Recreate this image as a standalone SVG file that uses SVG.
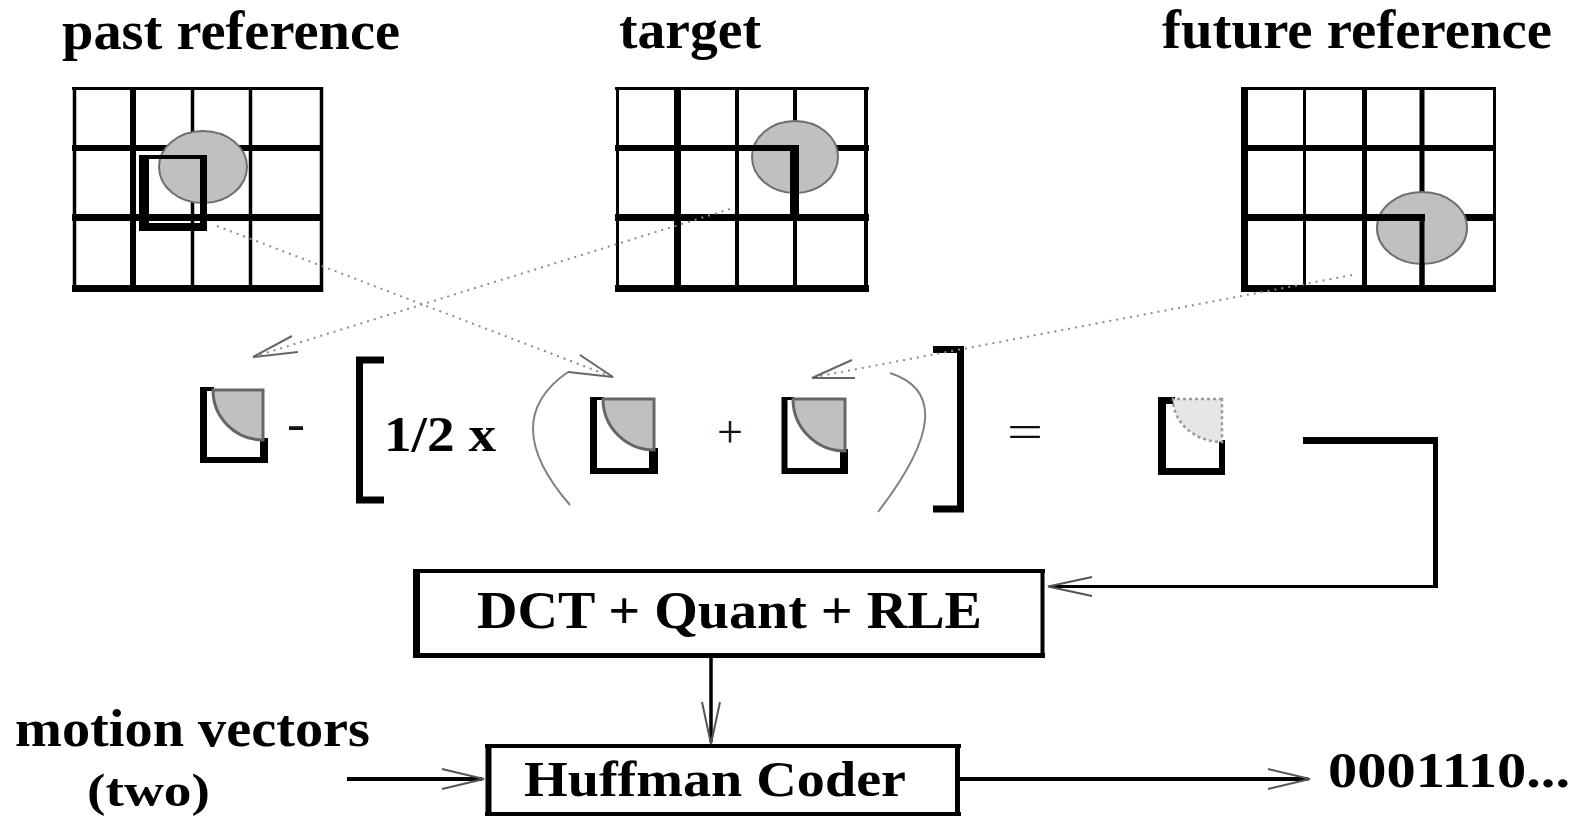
<svg xmlns="http://www.w3.org/2000/svg" width="1574" height="819" viewBox="0 0 1574 819">
<style>
.t{font-family:"Liberation Serif","Times New Roman",serif;font-weight:bold;fill:#000}
.op{font-family:"Liberation Serif","Times New Roman",serif;font-weight:normal;fill:#111}
.k{fill:none;stroke:#000}
.circ{fill:#c0c0c0;stroke:#6e6e6e;stroke-width:2}
.q{fill:#c0c0c0;stroke:#666;stroke-width:3}
.ql{fill:#e6e6e6;stroke:#999;stroke-width:2.5;stroke-dasharray:3 3}
.paren{fill:none;stroke:#808080;stroke-width:2}
.dot{fill:none;stroke:#8c8c8c;stroke-width:2;stroke-dasharray:2 5}
.ah{fill:none;stroke:#555;stroke-width:2}
.ahd{fill:none;stroke:#666;stroke-width:2}
</style>
<rect width="1574" height="819" fill="#fff"/>

<g id="past-reference">
<text class="t" x="62" y="49" font-size="54" textLength="338" lengthAdjust="spacingAndGlyphs">past reference</text>
<path class="k" d="M74.5,87V292M192.5,87V292M250.5,87V292M321.5,87V292" stroke-width="3.5"/>
<path class="k" d="M133,87V292" stroke-width="6"/>
<path class="k" d="M72,88.5H323" stroke-width="3"/>
<path class="k" d="M72,148H323" stroke-width="6"/>
<path class="k" d="M72,217.5H323M72,288.5H323" stroke-width="7"/>
<ellipse class="circ" cx="203" cy="167" rx="44" ry="36"/>
<path class="k" d="M144,155V231" stroke-width="10"/>
<path class="k" d="M139,157H207" stroke-width="4"/>
<path class="k" d="M203.5,155V231" stroke-width="7"/>
<path class="k" d="M139,227H207" stroke-width="8"/>
</g>

<g id="target">
<text class="t" x="619" y="48" font-size="54" textLength="142" lengthAdjust="spacingAndGlyphs">target</text>
<path class="k" d="M617.5,87V292" stroke-width="3"/>
<path class="k" d="M677.5,87V292" stroke-width="7"/>
<path class="k" d="M737,87V292M795,87V292M866,87V292" stroke-width="4"/>
<path class="k" d="M615,88.5H869" stroke-width="3"/>
<path class="k" d="M615,148H869" stroke-width="6"/>
<path class="k" d="M615,217.5H869M615,288.5H869" stroke-width="7"/>
<ellipse class="circ" cx="795" cy="157" rx="43" ry="36"/>
<path class="k" d="M737,148H799" stroke-width="6"/>
<path class="k" d="M794.5,145V221" stroke-width="9"/>
</g>

<g id="future-reference">
<text class="t" x="1162" y="48" font-size="54" textLength="390" lengthAdjust="spacingAndGlyphs">future reference</text>
<path class="k" d="M1244.5,87V292" stroke-width="7"/>
<path class="k" d="M1304.5,87V292M1494.5,87V292" stroke-width="3"/>
<path class="k" d="M1364.5,87V292M1422,87V292" stroke-width="5"/>
<path class="k" d="M1241,88.5H1496" stroke-width="3"/>
<path class="k" d="M1241,148H1496" stroke-width="6"/>
<path class="k" d="M1241,217.5H1496M1241,288.5H1496" stroke-width="7"/>
<ellipse class="circ" cx="1422" cy="228" rx="45" ry="36"/>
<path class="k" d="M1364,217.5H1425" stroke-width="7"/>
<path class="k" d="M1422,214V292" stroke-width="5"/>
</g>

<g id="target-block">
<path class="k" d="M200,389H214" stroke-width="4"/>
<path class="k" d="M203.5,387V463" stroke-width="7"/>
<path class="k" d="M200,460H268" stroke-width="6"/>
<path class="k" d="M264,438V463" stroke-width="8"/>
<path class="q" d="M263,390H213A50,50 0 0 0 263,440Z"/>
</g>

<g id="minus"><text class="op" x="287" y="440" font-size="50" textLength="18" lengthAdjust="spacingAndGlyphs">-</text></g>

<g id="bracket-open"><path class="k" d="M384,360H359.5V500H384" stroke-width="7"/></g>
<g id="half"><text class="t" x="384" y="451" font-size="51" textLength="112" lengthAdjust="spacingAndGlyphs">1/2 x</text></g>
<g id="paren-open"><path class="paren" d="M568,372Q497,421 570,505"/></g>

<g id="past-block">
<path class="k" d="M590,398.5H604" stroke-width="3"/>
<path class="k" d="M593.5,397V474" stroke-width="7"/>
<path class="k" d="M590,471H658" stroke-width="6"/>
<path class="k" d="M653.5,448V474" stroke-width="9"/>
<path class="q" d="M654,399H603A51,51 0 0 0 654,450Z"/>
</g>

<g id="plus"><text class="op" x="717" y="447" font-size="46">+</text></g>

<g id="future-block">
<path class="k" d="M782,398.5H794" stroke-width="3"/>
<path class="k" d="M784.5,397V474" stroke-width="6"/>
<path class="k" d="M782,471H848" stroke-width="6"/>
<path class="k" d="M844,449V474" stroke-width="8"/>
<path class="q" d="M845,399H793A52,52 0 0 0 845,451Z"/>
</g>

<g id="paren-close"><path class="paren" d="M890,373Q966,397.5 878,512"/></g>
<g id="bracket-close"><path class="k" d="M933,349.5H960.5V509H933" stroke-width="7"/></g>

<g id="equals"><text class="op" x="1007" y="447" font-size="47" textLength="36" lengthAdjust="spacingAndGlyphs">=</text></g>

<g id="residual-block">
<path class="k" d="M1158,400.5H1175" stroke-width="7"/>
<path class="k" d="M1162,397V475" stroke-width="8"/>
<path class="k" d="M1158,471.5H1225" stroke-width="7"/>
<path class="k" d="M1222,440V475" stroke-width="6"/>
<path class="ql" d="M1222,399H1173A49,43 0 0 0 1222,442Z"/>
</g>

<g id="dct">
<path class="k" d="M416.5,569V658" stroke-width="7"/>
<path class="k" d="M413,571H1045" stroke-width="4"/>
<path class="k" d="M1042.5,569V658" stroke-width="4"/>
<path class="k" d="M413,655.5H1045" stroke-width="5"/>
<text class="t" x="477" y="628" font-size="53" textLength="505" lengthAdjust="spacingAndGlyphs">DCT + Quant + RLE</text>
</g>

<g id="huffman">
<path class="k" d="M488.5,744V816" stroke-width="6"/>
<path class="k" d="M485,746H961" stroke-width="4"/>
<path class="k" d="M957.5,744V816" stroke-width="5"/>
<path class="k" d="M485,814H961" stroke-width="4"/>
<text class="t" x="524" y="796" font-size="51" textLength="382" lengthAdjust="spacingAndGlyphs">Huffman Coder</text>
</g>

<g id="motion-vectors">
<text class="t" x="15" y="746" font-size="52" textLength="355" lengthAdjust="spacingAndGlyphs">motion vectors</text>
<text class="t" x="87" y="806" font-size="47" textLength="123" lengthAdjust="spacingAndGlyphs">(two)</text>
</g>

<g id="output">
<text class="t" x="1328" y="787" font-size="50" textLength="242" lengthAdjust="spacingAndGlyphs">0001110...</text>
</g>

<g id="connectors">
<path class="dot" d="M217,226L610,376"/>
<polyline class="ahd" points="580,355 613,377 568,372"/>
<path class="dot" d="M730,209L256,356"/>
<polyline class="ahd" points="292,336 253,357 298,352"/>
<path class="dot" d="M1352,275L815,377"/>
<polyline class="ahd" points="852,360 812,378 855,378"/>
<path class="k" d="M1303,440.5H1438" stroke-width="7"/>
<path class="k" d="M1435.5,437V588" stroke-width="5"/>
<path class="k" d="M1438,586.5H1050" stroke-width="3"/>
<polyline class="ah" points="1092,577 1048,586.5 1092,596"/>
<path class="k" d="M711,658V742" stroke-width="3.5"/>
<polyline class="ah" points="702,702 711,744 720,702"/>
<path class="k" d="M347,779H482" stroke-width="4"/>
<polyline class="ah" points="442,769 484,779 442,789"/>
<path class="k" d="M960,779H1308" stroke-width="4"/>
<polyline class="ah" points="1268,769 1310,779 1268,789"/>
</g>
</svg>
